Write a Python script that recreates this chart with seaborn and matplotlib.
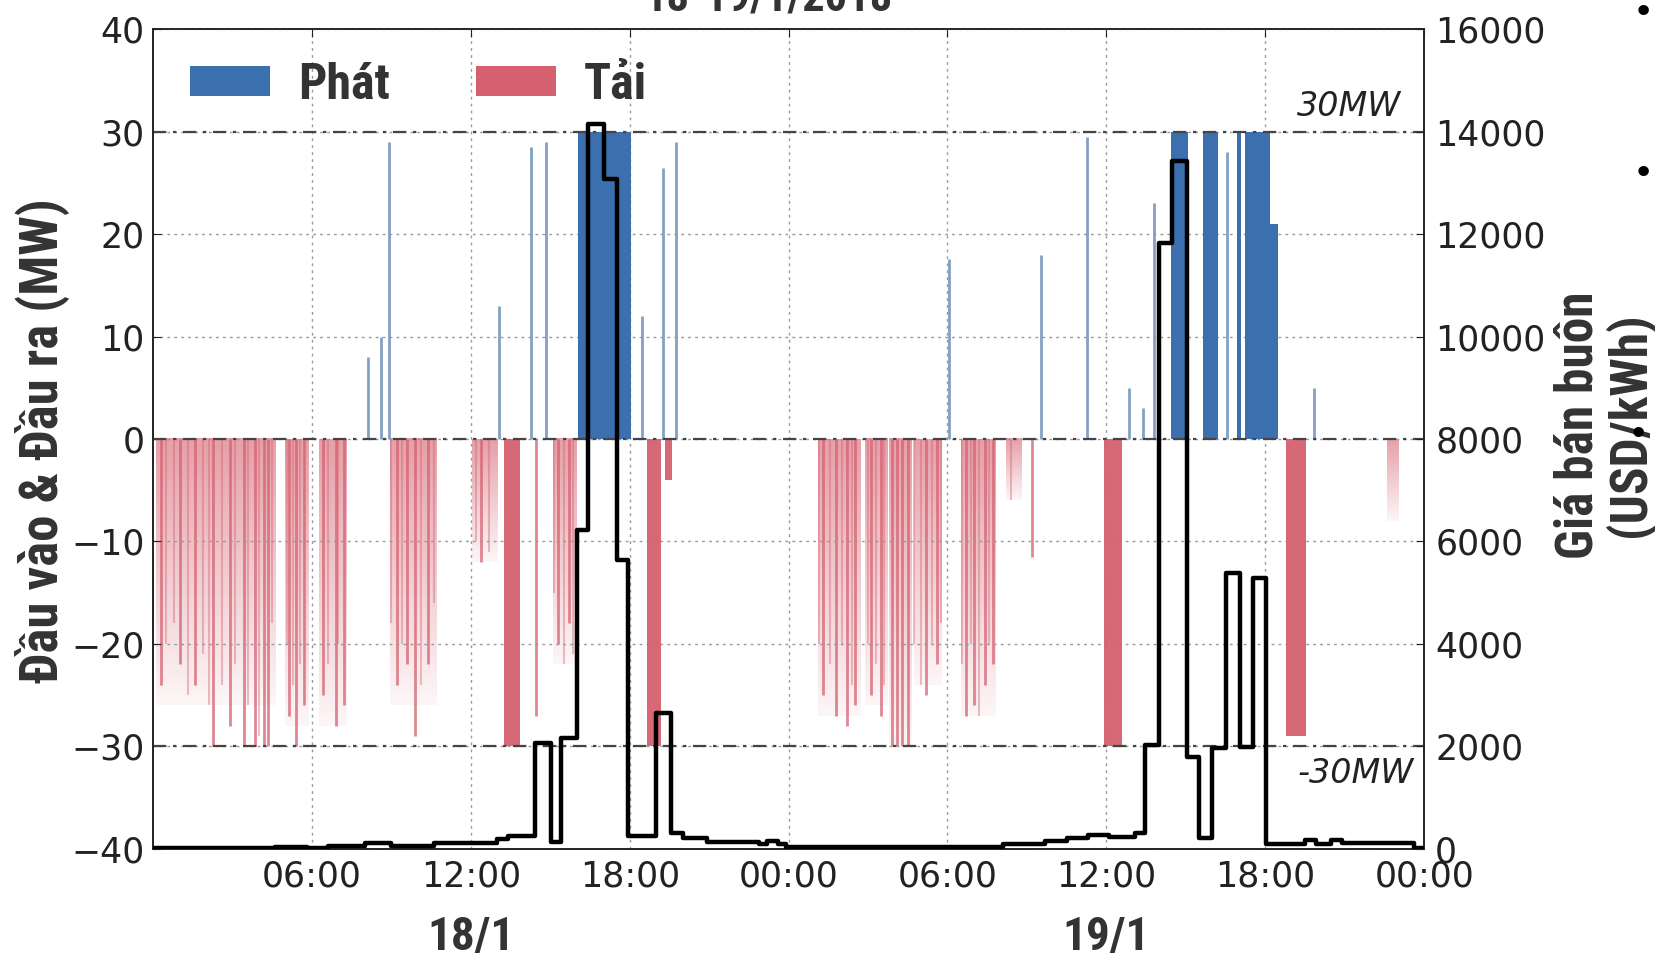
import numpy as np
import matplotlib
matplotlib.use("Agg")
import matplotlib.pyplot as plt
from matplotlib.colors import to_rgb
from matplotlib.patches import Patch
import seaborn as sns
import pandas as pd

# ---------------- data ----------------
hour_ticks = [6, 12, 18, 24, 30, 36, 42, 48]
hour_labels = ["06:00", "12:00", "18:00", "00:00", "06:00", "12:00", "18:00", "00:00"]
date_pos = [12, 36]
date_labels = ["18/1", "19/1"]
legend_labels = ["Phát", "Tải"]
ref_levels = [30, 0, -30]

# wholesale price (step series), hours from 18/1 00:00
price_hours = [0.0, 3.6, 4.6, 5.8, 6.6, 8.0, 9.0, 10.6, 13.0, 13.4,
               14.41, 15.02, 15.42, 15.99, 16.43, 17.02, 17.51, 17.92, 18.99, 19.54,
               20.0, 20.9, 22.9, 23.2, 23.6, 23.9, 30.1, 32.1, 33.7, 34.5,
               35.3, 36.1, 37.1, 37.45, 37.98, 38.47, 39.03, 39.5, 40.0, 40.51,
               41.05, 41.52, 42.03, 43.5, 43.9, 44.5, 44.9, 47.6, 48.0]
price_values = [20, 10, 40, 20, 50, 110, 60, 110, 190, 250,
                2070, 135, 2155, 6225, 14150, 13070, 5640, 250, 2650, 300,
                200, 130, 100, 150, 100, 30, 40, 90, 140, 200,
                260, 230, 300, 2020, 11830, 13420, 1790, 210, 1960, 5380,
                1990, 5280, 100, 170, 100, 170, 110, 20, 20]

# generation (Phát) solid blocks
gen_block_start = [16.05, 38.45, 39.65, 40.95, 41.25, 42.18]
gen_block_end = [18.05, 39.08, 40.22, 41.07, 42.18, 42.5]
gen_block_mw = [30, 30, 30, 30, 30, 21]
# generation short spikes
gen_spike_hours = [8.1, 8.6, 8.9, 13.06, 14.26, 14.84, 18.46, 19.26, 19.73,
                   30.06, 33.55, 35.27, 36.84, 37.37, 37.79, 40.55, 43.83]
gen_spike_mw = [8, 10, 29, 13, 28.5, 29, 12, 26.5, 29,
                17.6, 18, 29.5, 5, 3, 23, 28, 5]

# load (Tải) solid blocks
load_block_start = [13.26, 18.65, 19.33, 35.9, 42.8]
load_block_end = [13.87, 19.18, 19.6, 36.6, 43.55]
load_block_mw = [-30, -30, -4, -30, -29]
# load intermittent periods (envelope depth)
load_cluster_start = [0.1, 4.97, 6.25, 8.95, 12.05, 15.1, 25.1, 26.9, 27.8, 28.75, 30.5, 32.2, 46.6]
load_cluster_end = [4.6, 5.85, 7.3, 10.7, 13.0, 16.0, 26.7, 27.75, 28.65, 29.8, 31.8, 32.8, 47.05]
load_cluster_mw = [-26, -28, -28, -26, -12, -22, -27, -26, -30, -24, -27, -6, -8]
# load short spikes (strong)
load_spike_hours = [0.3, 1.0, 1.6, 2.27, 2.9, 3.42, 3.85, 4.2, 4.35, 5.15,
                    5.4, 5.7, 6.4, 6.9, 7.2, 9.2, 9.6, 9.9, 10.4, 12.4,
                    14.45, 15.3, 15.7, 25.3, 25.8, 26.2, 26.5, 27.1, 27.5, 27.9,
                    28.1, 28.3, 28.5, 29.2, 29.6, 30.7, 31.0, 31.4, 31.7, 33.2]
load_spike_mw = [-24, -22, -24, -30, -28, -30, -30, -30, -30, -27,
                 -30, -26, -25, -28, -26, -24, -22, -29, -22, -12,
                 -27, -20, -18, -25, -27, -28, -26, -25, -27, -30,
                 -30, -30, -30, -25, -22, -27, -26, -24, -22, -11.5]
# load short spikes (faint)
load_faint_hours = [0.5, 0.8, 1.3, 1.9, 2.1, 2.6, 3.1, 3.6, 4.0, 4.5,
                    5.05, 5.3, 5.55, 6.6, 7.0, 9.0, 9.4, 10.1, 10.6, 12.2,
                    12.7, 15.15, 15.5, 15.85, 25.15, 25.55, 26.0, 26.4, 27.0, 27.3,
                    27.6, 28.75, 29.0, 29.4, 29.75, 30.55, 30.9, 31.2, 31.55, 32.4]
load_faint_mw = [-20, -18, -25, -21, -26, -24, -22, -26, -29, -18,
                 -20, -24, -22, -22, -20, -18, -20, -24, -16, -10,
                 -11, -15, -22, -21, -20, -22, -20, -24, -20, -22,
                 -24, -20, -24, -20, -18, -22, -20, -27, -20, -6]

# ---------------- style ----------------
sns.set_style("white")
BOLD_FAM = ["Roboto Condensed", "Archivo Narrow", "DejaVu Sans"]
plt.rcParams["font.family"] = ["DejaVu Sans"]
BLUE = "#3b6fae"
RED = "#d5606f"
TXT = "#333333"

fig = plt.figure(figsize=(16.55, 9.56), dpi=100)
ax = fig.add_axes([0.0925, 0.1123, 0.768, 0.857])
ax2 = ax.twinx()

# load clusters as vertical gradients
rgb = np.array(to_rgb(RED))
nrow = 64
grad = np.zeros((nrow, 1, 4))
grad[:, 0, :3] = rgb
grad[:, 0, 3] = np.linspace(0.6, 0.06, nrow)
for s, e, d in zip(load_cluster_start, load_cluster_end, load_cluster_mw):
    ax.imshow(grad, extent=(s, e, d, 0), origin="upper", aspect="auto",
              interpolation="bilinear", zorder=1.5)
ax.vlines(load_faint_hours, 0, load_faint_mw, color=RED, lw=1.5, alpha=0.4, zorder=2)
ax.vlines(load_spike_hours, 0, load_spike_mw, color=RED, lw=2.0, alpha=0.75, zorder=2)

# load blocks
ls = np.array(load_block_start)
ax.bar(ls, load_block_mw, width=np.array(load_block_end) - ls, bottom=0, align="edge",
       color=RED, alpha=0.95, linewidth=0, zorder=3)

# generation
ax.vlines(gen_spike_hours, 0, gen_spike_mw, color="#4f79a8", lw=2.0, alpha=0.7, zorder=2)
gs = np.array(gen_block_start)
ax.bar(gs, gen_block_mw, width=np.array(gen_block_end) - gs, bottom=0, align="edge",
       color=BLUE, linewidth=0, zorder=3)

ax.set_xlim(0, 48)
ax.set_ylim(-40, 40)

# reference lines and grid
for lv in ref_levels:
    ax.axhline(lv, color="#444444", lw=1.6, ls="-.", dashes=(6, 3, 1.5, 3), zorder=4)
ax.set_yticks(range(-40, 41, 10))
ax.set_xticks(hour_ticks)
ax.set_xticklabels(hour_labels)
ax.grid(True, ls=(0, (2, 3)), color="#999999", lw=1.0)
ax.set_axisbelow(False)

# price line
price_df = pd.DataFrame({"h": price_hours, "p": price_values})
sns.lineplot(data=price_df, x="h", y="p", ax=ax2, color="black", lw=3.2,
             drawstyle="steps-post", estimator=None, sort=False, zorder=6)
ax2.set_xlim(0, 48)
ax2.set_ylim(0, 16000)
ax2.set_yticks(range(0, 16001, 2000))

for a in (ax, ax2):
    for sp in a.spines.values():
        sp.set_color("#222222")
        sp.set_linewidth(1.2)
ax.tick_params(axis="both", direction="in", length=6, labelsize=25, colors="#222222",
               top=True, pad=8)
ax.tick_params(axis="y", pad=6)
ax2.tick_params(axis="y", direction="in", length=6, labelsize=25, colors="#222222", pad=8)
ax.set_xlabel("")
ax2.set_xlabel("")

# axis labels
ax.set_ylabel("Đầu vào & Đầu ra (MW)", family=BOLD_FAM, fontweight="bold",
              fontsize=38, color=TXT)
ax.yaxis.set_label_coords(-0.0877, 0.498)
ax.yaxis.label.set_verticalalignment("center")
ax2.set_ylabel("Giá bán buôn\n(USD/kWh)", family=BOLD_FAM, fontweight="bold",
               fontsize=37, color=TXT, linespacing=1.0)
ax2.yaxis.set_label_coords(1.1424, 0.517)
ax2.yaxis.label.set_verticalalignment("center")

fig_w = 1655.0
for xp, lab in zip(date_pos, date_labels):
    xfig = (153 + xp * 1271 / 48) / fig_w
    fig.text(xfig, 0.006, lab, ha="center", va="baseline", family=BOLD_FAM,
             fontweight="bold", fontsize=34, color=TXT)

ax.text(47.15, 30.9, "30MW", ha="right", va="bottom", style="italic", fontsize=24, color="#222222")
ax.text(47.6, -31.1, "-30MW", ha="right", va="top", style="italic", fontsize=24, color="#222222")

# legend
handles = [Patch(facecolor=BLUE, edgecolor="none"), Patch(facecolor=RED, edgecolor="none")]
ax.legend(handles, legend_labels, loc="center left", bbox_to_anchor=(0.029, 0.932), ncol=2,
          frameon=False, prop={"family": BOLD_FAM, "weight": "bold", "size": 36},
          handlelength=1.6, handleheight=0.55, handletextpad=0.56, columnspacing=1.72,
          borderpad=0, borderaxespad=0, labelcolor=TXT)

# partially visible title and slide bullets
fig.text(0.4645, 0.989, "18-19/1/2018", ha="center", va="baseline", family=BOLD_FAM,
         fontweight="bold", fontsize=32, color=TXT)
for bx, by in zip([0.993, 0.993, 0.990], [0.986, 0.818, 0.545]):
    fig.text(bx, by, "•", ha="center", va="center", fontsize=26, color="black")

fig.savefig("out.png", dpi=100)
